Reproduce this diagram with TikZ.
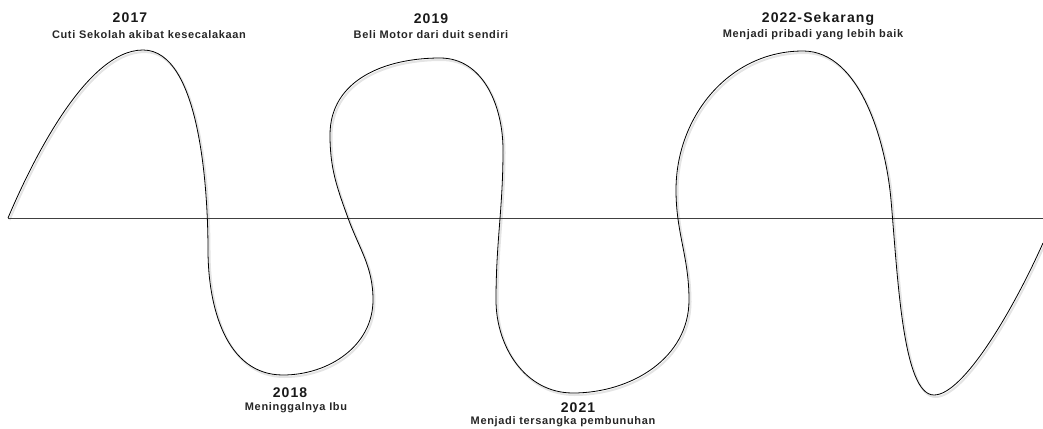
\documentclass[tikz,border=0pt]{standalone}
\usepackage{fontspec}
\setmainfont{Liberation Sans}
\tikzset{
  yr/.style={font=\fontsize{14}{16}\selectfont\bfseries\addfontfeature{LetterSpace=8}, inner sep=0pt, text=black!90, anchor=center},
  desc/.style={font=\fontsize{11}{13}\selectfont\bfseries\addfontfeature{LetterSpace=6}, inner sep=0pt, text=black!85, anchor=center},
  axisline/.style={draw=black!75, line width=0.9pt},
  wave/.style={draw=black, line width=0.8pt},
  waveshadow/.style={draw=gray!35, line width=2pt, opacity=0.6},
}
\newcommand\drawwave[1]{%
  \draw[#1] (8,218)
    to[out=67, in=180, out looseness=0.6, in looseness=0.7] (143,50)
    to[out=0, in=90, looseness=0.7] (208,250)
    to[out=-90, in=180] (283,375)
    to[out=0, in=-90] (373,300)
    to[out=90, in=-70] (348,218)
    to[out=110, in=-90] (330,135)
    to[out=90, in=180, looseness=1.05] (440,58)
    to[out=0, in=90] (503,150)
    to[out=-90, in=90] (496,300)
    to[out=-90, in=180] (573,393)
    to[out=0, in=-90] (689,300)
    to[out=90, in=-90] (676,190)
    to[out=90, in=180] (803,51)
    to[out=0, in=95, looseness=0.85] (891,200)
    to[out=-85, in=180, out looseness=1, in looseness=0.4] (934,395)
    to[out=0, in=-114, out looseness=0.4, in looseness=1] (1043,243);%
}
\begin{document}
\begin{tikzpicture}[x=1pt, y=-1pt]
\useasboundingbox (0,0) rectangle (1043,428);
\begin{scope}[shift={(1.5,2)}]
\drawwave{waveshadow}
\end{scope}
\coordinate (axL) at (8,218);
\coordinate (axR) at (1043,218);
\draw[axisline] (axL) -- (axR);
\drawwave{wave}
\node[yr] (t17) at (130,18) {2017};
\node[desc] (d17) at (149,35) {Cuti Sekolah akibat kesecalakaan};
\node[yr] (t19) at (431,19) {2019};
\node[desc] (d19) at (431,35) {Beli Motor dari duit sendiri};
\node[yr] (t22) at (818,19) {2022-Sekarang};
\node[desc] (d22) at (813,35) {Menjadi pribadi yang lebih baik};
\node[yr] (t18) at (290,393) {2018};
\node[desc] (d18) at (296,408) {Meninggalnya Ibu};
\node[yr] (t21) at (578,408) {2021};
\node[desc] (d21) at (563,422) {Menjadi tersangka pembunuhan};
\end{tikzpicture}
\end{document}
